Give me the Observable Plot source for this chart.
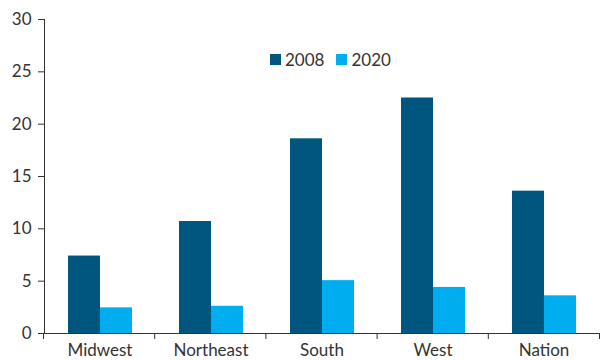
<!DOCTYPE html>
<html>
<head>
<meta charset="utf-8">
<script src="https://cdn.jsdelivr.net/npm/d3@7"></script>
<script src="https://cdn.jsdelivr.net/npm/@observablehq/plot@0.6"></script>
<style>
  html, body { margin: 0; padding: 0; background: #fff; }
  #wrap { position: relative; width: 600px; height: 360px; font-family: Lato, "Noto Sans", sans-serif; }
  #legend { position: absolute; left: 270px; top: 49px; display: flex; align-items: center; font-size: 17px; color: #333; }
  .item { display: flex; align-items: center; margin-right: 12px; }
  .sw { width: 11px; height: 11px; margin-right: 4px; }
</style>
</head>
<body>
<div id="wrap"></div>
<script>
const regions = ["Midwest", "Northeast", "South", "West", "Nation"];
const series = ["2008", "2020"];
const values2008 = [7.4, 10.7, 18.6, 22.5, 13.6];
const values2020 = [2.45, 2.6, 5.05, 4.4, 3.6];
const colors = ["#01567f", "#00aeef"];
const yTicks = [0, 5, 10, 15, 20, 25, 30];

const data = [];
regions.forEach((r, i) => {
  data.push({region: r, year: series[0], value: values2008[i]});
  data.push({region: r, year: series[1], value: values2020[i]});
});

const plot = Plot.plot({
  width: 600,
  height: 360,
  marginLeft: 43,
  marginRight: 1,
  marginTop: 19,
  marginBottom: 27,
  style: {fontFamily: "Lato, 'Noto Sans', sans-serif", fontSize: "17px", color: "#333", background: "#fff"},
  fx: {domain: regions, padding: 0, label: null, tickSize: 0, tickPadding: 10},
  x: {domain: series, paddingInner: 0, paddingOuter: 0.73, axis: null},
  y: {domain: [0, 30], ticks: yTicks, tickSize: 6, tickPadding: 7, label: null, line: true},
  color: {domain: series, range: colors},
  facet: {data, x: "region"},
  marks: [
    Plot.barY(data, {x: "year", y: "value", fill: "year"}),
    Plot.ruleY([0], {stroke: "#333"})
  ]
});

document.getElementById("wrap").appendChild(plot);

// boundary ticks along the category axis, from the fx scale
const fx = plot.scale("fx");
const band = d3.scaleBand().domain(fx.domain).range(fx.range).padding(0);
const edges = regions.map(r => band(r)).concat([band(regions[regions.length - 1]) + band.bandwidth()]);
const y0 = plot.scale("y").range[0];
d3.select(plot).append("g")
  .attr("stroke", "#333")
  .selectAll("line").data(edges).join("line")
  .attr("x1", d => d + 0.5).attr("x2", d => d + 0.5)
  .attr("y1", y0).attr("y2", y0 + 6);

// legend
const legend = d3.select("#wrap").append("div").attr("id", "legend");
series.forEach((s, i) => {
  const it = legend.append("div").attr("class", "item");
  it.append("div").attr("class", "sw").style("background", colors[i]);
  it.append("span").text(s);
});
</script>
</body>
</html>
